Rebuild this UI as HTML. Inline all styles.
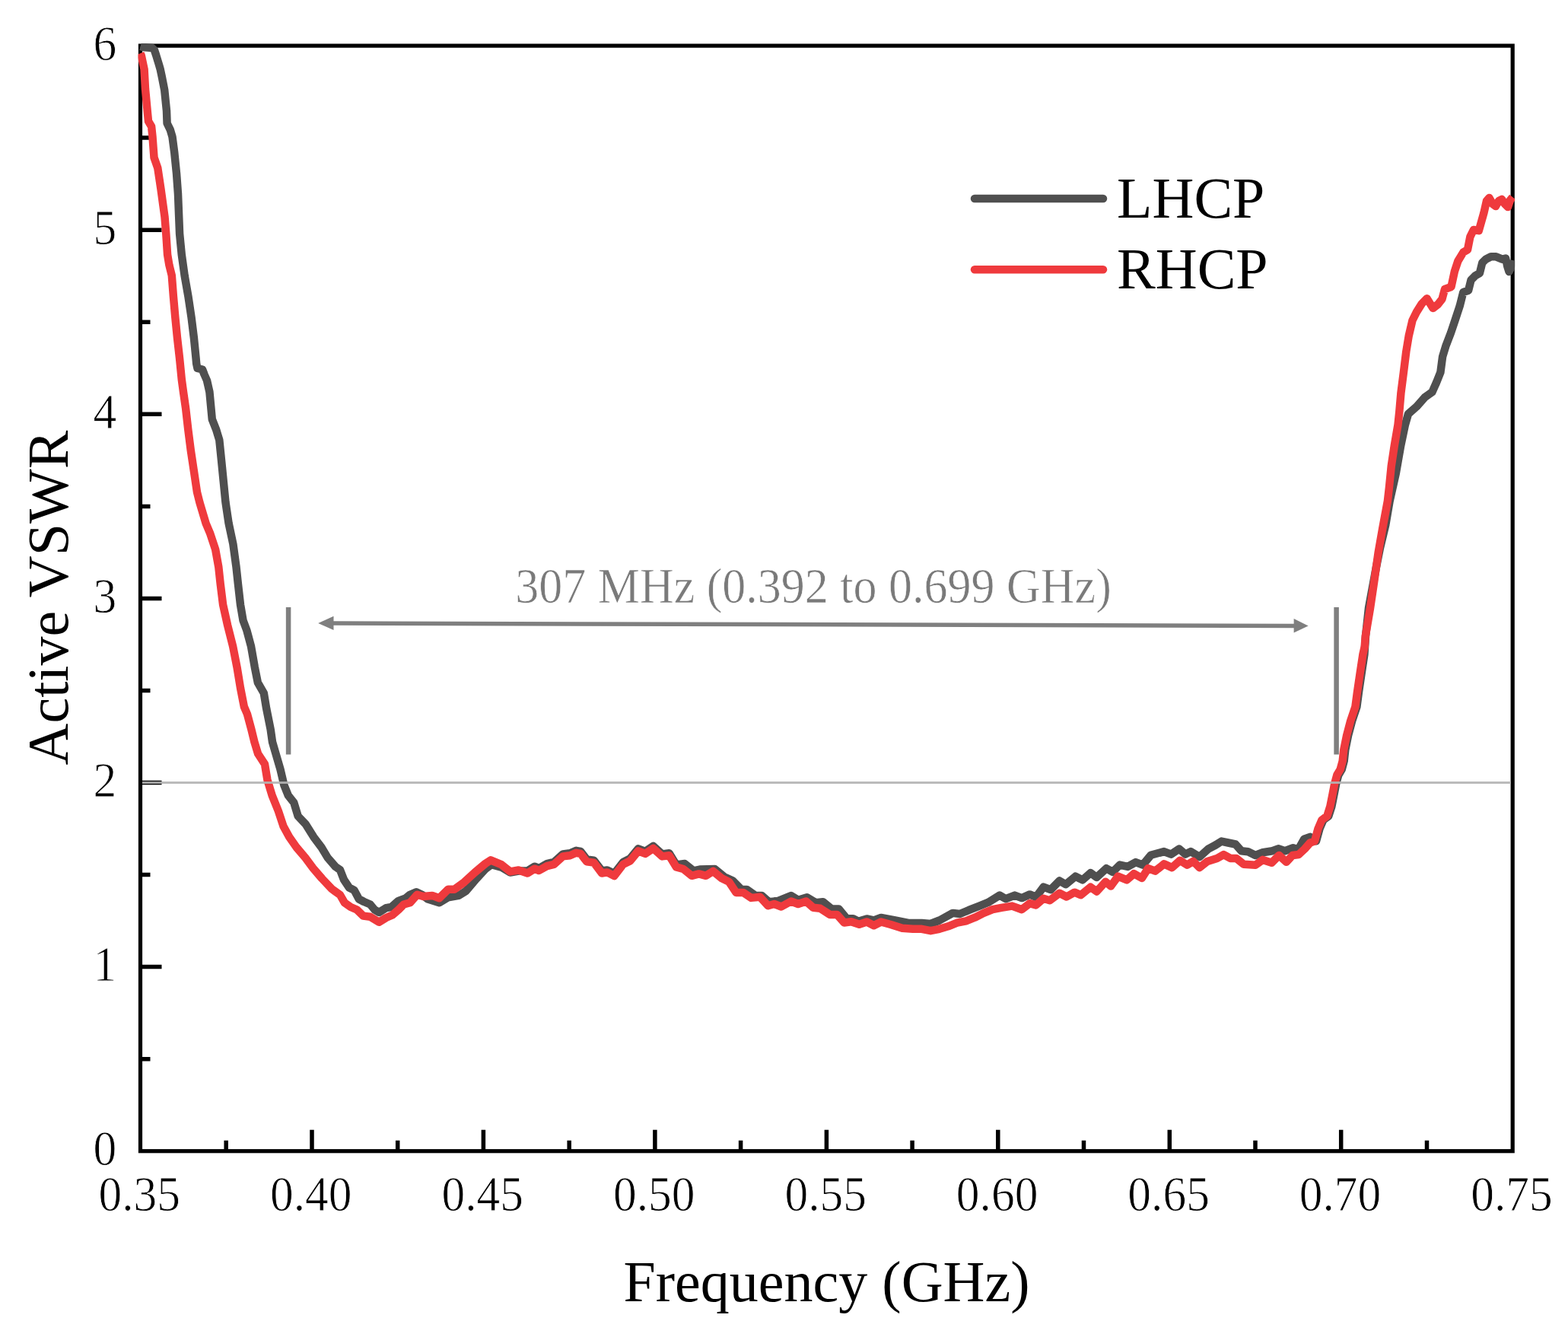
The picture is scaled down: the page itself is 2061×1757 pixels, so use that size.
<!DOCTYPE html>
<html><head><meta charset="utf-8"><title>Active VSWR</title>
<style>html,body{margin:0;padding:0;background:#fff;}svg{display:block;}</style>
</head><body>
<svg width="2061" height="1757" viewBox="0 0 2061 1757">
<rect width="2061" height="1757" fill="#fff"/>
<defs><clipPath id="c"><rect x="181.5" y="57.1" width="1809.7" height="1458.6"/></clipPath></defs>
<path d="M297.2,1512.7V1498.7M410.0,1512.7V1484.7M522.7,1512.7V1498.7M635.4,1512.7V1484.7M748.2,1512.7V1498.7M860.9,1512.7V1484.7M973.6,1512.7V1498.7M1086.4,1512.7V1484.7M1199.1,1512.7V1498.7M1311.8,1512.7V1484.7M1424.5,1512.7V1498.7M1537.3,1512.7V1484.7M1650.0,1512.7V1498.7M1762.7,1512.7V1484.7M1875.5,1512.7V1498.7M184.5,1391.7H197.5M184.5,1270.6H212.5M184.5,1149.5H197.5M184.5,1028.5H212.5M184.5,907.4H197.5M184.5,786.4H212.5M184.5,665.4H197.5M184.5,544.3H212.5M184.5,423.2H197.5M184.5,302.2H212.5M184.5,181.1H197.5" stroke="#000" stroke-width="5.5" fill="none"/>
<rect x="184.5" y="60.1" width="1803.7" height="1452.6" fill="none" stroke="#000" stroke-width="5.2"/>
<g clip-path="url(#c)" fill="none" stroke-linejoin="round" stroke-linecap="butt" stroke-width="10.5">
<path d="M184.5,61.0 L188.0,62.0 L200.0,63.0 L203.0,66.0 L205.0,72.0 L208.9,84.8 L210.7,91.0 L212.8,100.8 L216.2,118.3 L219.0,145.7 L219.6,162.0 L223.7,170.3 L226.5,179.8 L229.2,200.3 L232.0,227.7 L234.0,255.0 L235.2,285.0 L236.1,307.3 L238.8,334.7 L242.6,362.0 L247.4,389.3 L251.5,416.7 L254.9,444.0 L257.6,471.3 L258.2,478.0 L259.5,484.0 L266.0,485.5 L268.5,492.0 L272.0,500.0 L275.4,515.0 L278.8,551.0 L284.2,564.7 L288.3,578.3 L291.1,605.7 L293.8,633.0 L296.5,660.3 L300.6,687.7 L306.4,715.0 L310.5,745.0 L312.9,767.3 L316.0,794.7 L319.5,815.2 L324.5,828.8 L330.0,849.3 L334.8,876.7 L338.9,897.2 L346.8,910.8 L350.2,931.3 L355.7,958.7 L358.0,975.0 L361.7,987.8 L368.5,1011.0 L373.3,1031.5 L378.8,1045.2 L386.3,1054.7 L391.7,1072.5 L402.0,1083.4 L412.2,1099.8 L422.5,1113.5 L430.7,1127.1 L441.0,1139.0 L447.0,1143.1 L452.0,1156.0 L459.0,1166.5 L465.6,1169.9 L471.8,1181.5 L478.4,1185.0 L486.6,1188.5 L492.4,1195.5 L498.2,1199.0 L507.5,1193.2 L514.5,1192.0 L523.8,1183.8 L533.2,1180.3 L539.0,1175.7 L547.1,1172.2 L555.0,1176.0 L562.3,1181.5 L577.4,1186.2 L589.0,1179.2 L603.0,1176.9 L612.3,1171.0 L626.3,1154.7 L638.0,1141.9 L646.1,1136.1 L658.9,1139.6 L670.6,1146.6 L681.6,1144.5 L693.3,1144.5 L702.6,1138.7 L708.4,1141.0 L718.9,1135.2 L728.2,1132.9 L739.9,1122.4 L749.2,1121.3 L757.3,1117.8 L763.2,1118.9 L771.3,1129.4 L780.6,1130.6 L791.1,1144.5 L798.1,1143.4 L807.4,1148.0 L819.1,1132.9 L828.4,1128.2 L838.9,1115.4 L848.2,1118.9 L858.6,1111.9 L870.3,1122.4 L879.6,1121.3 L888.9,1136.4 L900.0,1135.0 L911.6,1144.4 L919.8,1142.6 L939.6,1142.0 L952.4,1152.5 L962.9,1157.2 L974.5,1168.9 L981.5,1168.9 L993.2,1177.0 L1001.3,1177.0 L1010.6,1185.2 L1022.3,1184.0 L1039.7,1177.0 L1049.1,1182.8 L1060.7,1179.3 L1072.3,1186.3 L1081.7,1185.2 L1093.3,1194.5 L1102.6,1194.5 L1113.1,1207.3 L1121.3,1207.3 L1128.2,1210.8 L1139.3,1207.5 L1148.6,1209.5 L1158.0,1206.0 L1176.6,1209.5 L1194.0,1213.0 L1211.5,1213.0 L1223.2,1214.0 L1234.8,1209.5 L1252.3,1199.9 L1261.6,1201.0 L1275.6,1195.2 L1287.2,1190.6 L1298.8,1185.9 L1314.0,1176.6 L1322.1,1181.2 L1333.8,1176.6 L1343.1,1180.1 L1353.6,1175.4 L1361.7,1178.9 L1371.6,1165.7 L1381.0,1169.2 L1392.6,1157.5 L1400.8,1162.2 L1413.6,1151.7 L1422.9,1156.4 L1433.4,1147.1 L1441.5,1152.9 L1454.3,1141.2 L1462.5,1145.9 L1471.8,1136.6 L1482.3,1138.9 L1492.8,1133.1 L1502.1,1136.6 L1512.6,1123.8 L1530.0,1119.1 L1539.3,1122.6 L1549.8,1115.6 L1558.0,1122.6 L1565.0,1119.1 L1576.6,1126.1 L1588.2,1115.6 L1597.8,1110.5 L1605.5,1105.6 L1614.3,1107.5 L1624.0,1109.5 L1631.7,1118.2 L1640.5,1119.2 L1650.2,1124.0 L1659.9,1120.2 L1672.5,1118.2 L1680.2,1115.3 L1689.0,1118.2 L1699.7,1114.3 L1706.5,1116.3 L1714.2,1102.7 L1722.0,1099.8 L1730.0,1105.3 L1734.5,1089.0 L1739.4,1077.6 L1746.3,1072.5 L1750.4,1059.6 L1753.4,1044.4 L1756.3,1029.6 L1759.3,1018.5 L1763.7,1011.1 L1766.7,1000.0 L1768.3,985.3 L1772.1,966.5 L1777.1,947.7 L1783.4,928.9 L1785.9,910.1 L1789.6,885.1 L1793.4,860.0 L1795.0,836.0 L1799.0,799.0 L1809.0,745.0 L1814.0,720.0 L1821.2,690.0 L1826.6,658.5 L1834.8,622.0 L1841.2,585.6 L1847.0,558.0 L1851.0,544.0 L1861.9,534.4 L1872.9,522.1 L1882.4,515.3 L1887.9,503.0 L1893.4,489.3 L1896.1,468.8 L1900.2,455.2 L1907.0,437.4 L1912.5,421.0 L1918.7,402.2 L1923.3,384.0 L1930.1,381.7 L1933.5,368.0 L1939.2,362.3 L1944.9,358.9 L1948.3,345.2 L1952.9,340.7 L1959.7,337.3 L1966.5,337.3 L1974.5,340.7 L1979.1,339.5 L1981.3,350.0 L1983.5,357.0 L1986.0,352.0 L1988.2,342.0" stroke="#4f4f4f"/>
<path d="M184.5,70.0 L185.8,73.0 L189.6,91.0 L191.0,117.0 L193.7,145.7 L195.0,159.3 L199.1,166.2 L200.5,179.8 L202.5,207.0 L207.3,220.8 L211.4,248.0 L216.5,285.0 L218.3,307.3 L220.1,334.7 L222.4,348.3 L225.8,362.0 L227.9,389.3 L230.3,416.7 L233.0,444.0 L236.1,471.3 L238.8,498.7 L241.0,515.0 L244.2,537.3 L247.3,564.7 L250.8,592.0 L254.9,619.3 L259.0,646.7 L262.4,660.3 L270.6,687.7 L276.3,701.3 L283.1,721.8 L287.3,745.0 L289.7,767.3 L293.1,794.7 L299.2,822.0 L306.1,849.3 L311.5,876.7 L316.0,904.0 L320.8,928.6 L324.9,938.2 L330.4,958.7 L334.4,975.0 L339.1,990.5 L348.0,1004.2 L351.4,1024.7 L357.6,1045.2 L365.8,1065.6 L372.6,1086.1 L380.1,1099.8 L389.7,1113.5 L401.3,1127.1 L411.5,1140.8 L423.2,1154.5 L436.1,1168.1 L440.0,1171.0 L447.0,1176.0 L452.8,1186.2 L461.0,1192.0 L469.1,1195.5 L477.3,1203.6 L486.6,1204.8 L498.2,1211.8 L507.5,1206.0 L515.7,1202.5 L523.8,1195.5 L530.8,1188.5 L539.0,1186.2 L548.3,1175.7 L556.4,1178.0 L568.1,1176.9 L577.4,1180.3 L589.0,1168.7 L597.2,1168.7 L610.0,1159.4 L624.0,1146.6 L638.0,1134.9 L645.0,1130.3 L658.9,1136.1 L670.6,1145.4 L681.6,1143.5 L693.3,1147.5 L702.6,1141.7 L708.4,1144.0 L718.9,1138.2 L728.2,1135.9 L739.9,1125.4 L749.2,1124.3 L757.3,1120.8 L763.2,1121.9 L771.3,1132.4 L780.6,1133.6 L791.1,1147.5 L798.1,1146.4 L807.4,1151.0 L819.1,1135.9 L828.4,1131.2 L838.9,1118.4 L848.2,1121.9 L858.6,1114.9 L870.3,1125.4 L879.6,1124.3 L888.9,1139.4 L898.2,1142.0 L909.3,1150.8 L918.6,1148.4 L927.9,1150.8 L937.3,1144.9 L948.9,1154.3 L958.2,1158.9 L967.5,1172.9 L976.9,1172.9 L987.3,1179.9 L999.0,1178.7 L1009.5,1190.3 L1017.6,1188.0 L1026.9,1191.5 L1039.7,1184.5 L1049.1,1188.0 L1059.5,1184.5 L1068.9,1192.7 L1078.2,1193.8 L1091.0,1202.0 L1100.3,1202.0 L1109.6,1212.5 L1118.9,1211.3 L1129.4,1214.8 L1139.3,1211.5 L1148.6,1216.2 L1158.0,1211.5 L1170.8,1215.0 L1185.9,1219.7 L1199.9,1220.8 L1211.5,1220.8 L1223.2,1223.2 L1234.8,1220.8 L1246.4,1217.3 L1258.1,1212.7 L1269.7,1210.3 L1281.4,1205.7 L1293.0,1199.9 L1304.7,1195.2 L1316.3,1192.9 L1330.3,1190.6 L1343.1,1195.2 L1353.6,1187.1 L1361.7,1189.4 L1371.6,1180.8 L1379.8,1183.2 L1392.6,1173.8 L1401.9,1178.5 L1412.4,1172.7 L1420.6,1176.2 L1433.4,1165.7 L1441.5,1171.5 L1453.2,1158.7 L1460.1,1164.5 L1469.5,1151.7 L1481.1,1156.4 L1490.4,1148.2 L1500.9,1154.0 L1509.1,1141.2 L1518.4,1144.7 L1530.0,1135.4 L1540.5,1140.1 L1551.0,1130.8 L1560.3,1136.6 L1568.4,1131.9 L1576.6,1140.1 L1587.1,1131.9 L1599.7,1128.0 L1608.4,1123.1 L1617.2,1127.9 L1624.9,1127.9 L1634.6,1135.7 L1650.2,1136.7 L1659.9,1129.9 L1671.5,1133.8 L1681.2,1124.0 L1690.9,1132.8 L1699.0,1124.0 L1707.0,1123.0 L1715.0,1115.5 L1722.0,1107.5 L1728.0,1105.3 L1732.5,1089.0 L1737.4,1077.6 L1744.3,1072.5 L1748.4,1059.6 L1751.4,1044.4 L1754.3,1029.6 L1757.3,1018.5 L1761.7,1011.1 L1764.7,1000.0 L1766.3,985.3 L1770.1,966.5 L1775.1,947.7 L1781.4,928.9 L1783.9,910.1 L1787.6,885.1 L1791.4,860.0 L1793.7,850.0 L1794.8,835.8 L1801.0,799.3 L1806.4,762.9 L1811.6,726.4 L1817.5,693.0 L1823.9,658.5 L1826.0,640.0 L1828.7,612.9 L1832.8,585.6 L1837.5,558.2 L1839.4,540.0 L1841.4,516.7 L1844.9,489.3 L1848.3,462.0 L1851.7,441.5 L1856.5,421.0 L1861.9,410.1 L1868.8,399.1 L1875.6,392.3 L1883.5,405.0 L1890.0,400.0 L1895.5,393.0 L1899.0,380.0 L1907.5,377.0 L1911.9,356.6 L1916.4,343.0 L1923.3,331.6 L1929.0,328.2 L1932.4,311.1 L1936.9,302.0 L1943.8,303.1 L1950.4,279.8 L1954.0,264.0 L1957.5,260.0 L1962.0,268.0 L1966.0,271.0 L1970.0,264.0 L1974.0,262.0 L1978.0,268.0 L1982.0,272.0 L1985.0,263.0 L1988.2,259.0" stroke="#ef3a3d"/>
</g>
<path d="M187,1028.5H1986" stroke="#b4b4b4" stroke-width="3" opacity="0.9"/>
<g stroke="#7f7f7f" stroke-width="5.5" fill="none">
<path d="M379.1,798V991.6M1756.6,798V991.5" stroke-width="6.5"/>
<path d="M436,819.1L1703,822.4" stroke-width="5.5"/>
</g>
<g fill="#7f7f7f">
<path d="M418.2,819L438.5,809.8L438.5,828Z"/>
<path d="M1719.6,822.5L1700.6,813L1700.6,831.6Z"/>
</g>
<g font-family="'Liberation Serif', 'Times New Roman', serif" fill="#000">
<g font-size="61.5" stroke="#fff" stroke-width="0.8"><text transform="translate(183.3,1591.3) scale(1,1.075)" text-anchor="middle">0.35</text><text transform="translate(408.8,1591.3) scale(1,1.075)" text-anchor="middle">0.40</text><text transform="translate(634.2,1591.3) scale(1,1.075)" text-anchor="middle">0.45</text><text transform="translate(859.7,1591.3) scale(1,1.075)" text-anchor="middle">0.50</text><text transform="translate(1085.2,1591.3) scale(1,1.075)" text-anchor="middle">0.55</text><text transform="translate(1310.6,1591.3) scale(1,1.075)" text-anchor="middle">0.60</text><text transform="translate(1536.1,1591.3) scale(1,1.075)" text-anchor="middle">0.65</text><text transform="translate(1761.5,1591.3) scale(1,1.075)" text-anchor="middle">0.70</text><text transform="translate(1987.0,1591.3) scale(1,1.075)" text-anchor="middle">0.75</text><text transform="translate(137.8,1531.1) scale(1,1.08)" text-anchor="middle">0</text><text transform="translate(137.8,1289.0) scale(1,1.08)" text-anchor="middle">1</text><text transform="translate(137.8,1046.9) scale(1,1.08)" text-anchor="middle">2</text><text transform="translate(137.8,804.8) scale(1,1.08)" text-anchor="middle">3</text><text transform="translate(137.8,562.7) scale(1,1.08)" text-anchor="middle">4</text><text transform="translate(137.8,320.6) scale(1,1.08)" text-anchor="middle">5</text><text transform="translate(137.8,78.5) scale(1,1.08)" text-anchor="middle">6</text></g>
<text x="1086.5" y="1710" font-size="76" text-anchor="middle">Frequency (GHz)</text>
<text transform="translate(89,785.5) rotate(-90)" font-size="76" text-anchor="middle">Active VSWR</text>
<text x="1468.1" y="286.4" font-size="76">LHCP</text>
<text x="1468.1" y="378.5" font-size="76">RHCP</text>
<text transform="translate(677.3,791.6) scale(1,1.04)" font-size="62" fill="#7a7a7a" stroke="#fff" stroke-width="0.6">307 MHz (0.392 to 0.699 GHz)</text>
</g>
<g stroke-width="10.5" stroke-linecap="round">
<path d="M1281,261H1450" stroke="#4f4f4f"/>
<path d="M1281,354.2H1450" stroke="#ef3a3d"/>
</g>
</svg>
</body></html>
